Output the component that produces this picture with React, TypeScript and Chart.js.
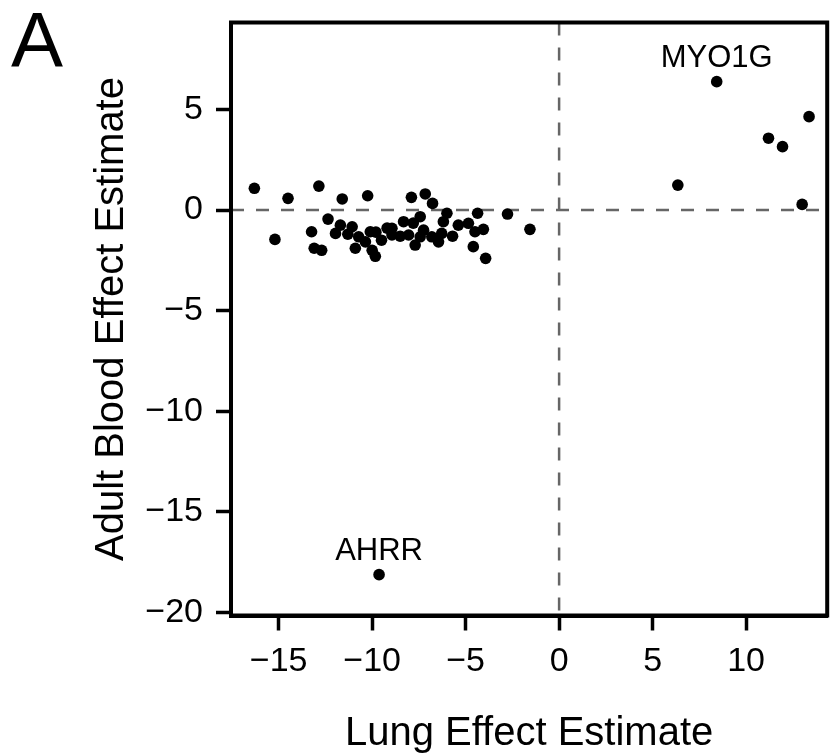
import React, { useEffect, useRef } from "react";
import { Chart, registerables } from "chart.js";

Chart.register(...registerables);

// ---- data ----
const lungEffect = [
  -16.3, -12.85, -14.5, -11.6, -10.24, -15.2, -12.36, -13.24, -13.1, -12.7,
  -11.7, -11.96, -11.07, -10.72, -10.1, -10.9, -10.0, -9.83, -9.2, -8.94,
  -10.36, -7.9, -7.16, -6.77, -7.43, -6.0, -4.36, -2.76, -1.56, -3.93,
  -4.59, -4.05, -4.5, -4.85, -5.39, -6.19, -6.28, -6.45, -6.81, -7.7,
  -7.43, -8.05, -8.32, -8.94, -7.25, -7.8, -9.5, -8.5, -5.7, -9.8, -11.3,
  6.35, 11.2, 11.95, 13.37, 13.0,
];
const bloodEffect = [
  1.08, 1.19, 0.58, 0.55, 0.71, -1.46, -0.45, -1.08, -1.9, -2.0,
  -0.75, -1.16, -0.83, -1.33, -1.08, -1.9, -2.0, -2.3, -0.9, -1.24,
  -1.58, 0.63, 0.8, 0.33, -0.33, -0.16, -0.16, -0.2, -0.96, -2.4,
  -1.82, -0.96, -1.08, -0.66, -0.75, -0.58, -1.16, -1.58, -1.33, -1.74,
  -1.33, -1.24, -0.58, -0.91, -1.0, -0.65, -1.5, -1.3, -1.3, -1.1, -1.2,
  1.24, 3.57, 3.15, 4.64, 0.28,
];
const labelledGenes = ["MYO1G", "AHRR"];
const labelledLung = [8.43, -9.63];
const labelledBlood = [6.38, -18.12];

const xTicks = [-15, -10, -5, 0, 5, 10];
const yTicks = [-20, -15, -10, -5, 0, 5];
const xRange = [-17.55, 14.34];
const yRange = [-20.15, 9.32];

const panelLabel = "A";
const xTitle = "Lung Effect Estimate";
const yTitle = "Adult Blood Effect Estimate";

const FONT = "'Liberation Sans', Arial, Helvetica, sans-serif";

const fmt = (v: number) => (v < 0 ? "\u2212" + Math.abs(v) : String(v));

const decorPlugin = {
  id: "decor",
  beforeDatasetsDraw(chart: any) {
    const { ctx, chartArea: a, scales } = chart;
    const x0 = scales.x.getPixelForValue(0);
    const y0 = scales.y.getPixelForValue(0);
    ctx.save();
    ctx.strokeStyle = "#666666";
    ctx.lineWidth = 2.5;
    ctx.setLineDash([13, 12]);
    ctx.beginPath();
    ctx.moveTo(x0, a.top);
    ctx.lineTo(x0, a.bottom);
    ctx.stroke();
    ctx.beginPath();
    ctx.moveTo(a.left, y0);
    ctx.lineTo(a.right, y0);
    ctx.stroke();
    ctx.restore();
  },
  afterDraw(chart: any) {
    const { ctx, chartArea: a, scales } = chart;
    ctx.save();
    // frame
    ctx.strokeStyle = "#000";
    ctx.lineWidth = 4;
    ctx.strokeRect(a.left, a.top, a.right - a.left, a.bottom - a.top);

    ctx.fillStyle = "#000";
    // axis titles
    ctx.font = `40px ${FONT}`;
    ctx.textAlign = "center";
    ctx.textBaseline = "alphabetic";
    ctx.fillText(xTitle, (a.left + a.right) / 2, 745);
    ctx.save();
    ctx.translate(123, (a.top + a.bottom) / 2);
    ctx.rotate(-Math.PI / 2);
    ctx.fillText(yTitle, 0, 0);
    ctx.restore();

    // point annotations
    ctx.font = `31px ${FONT}`;
    labelledGenes.forEach((g, i) => {
      const px = scales.x.getPixelForValue(labelledLung[i]);
      const py = scales.y.getPixelForValue(labelledBlood[i]);
      ctx.fillText(g, px, py - 15);
    });

    // panel label
    ctx.font = `78px ${FONT}`;
    ctx.textAlign = "left";
    ctx.fillText(panelLabel, 11, 67);
    ctx.restore();
  },
};

export default function App() {
  const ref = useRef<HTMLCanvasElement | null>(null);

  useEffect(() => {
    document.body.style.margin = "0";
    const canvas = ref.current;
    if (!canvas) return;

    const pts = lungEffect.map((x, i) => ({ x, y: bloodEffect[i] }));
    const labPts = labelledLung.map((x, i) => ({ x, y: labelledBlood[i] }));

    const tickFont = { family: FONT, size: 34 };

    const chart = new Chart(canvas, {
      type: "scatter",
      data: {
        datasets: [
          {
            data: pts,
            backgroundColor: "#000",
            borderWidth: 0,
            pointRadius: 5.8,
          },
          {
            data: labPts,
            backgroundColor: "#000",
            borderWidth: 0,
            pointRadius: 5.8,
          },
        ],
      },
      options: {
        animation: false,
        responsive: false,
        devicePixelRatio: 1,
        layout: { padding: { top: 22.5, right: 2.5, left: 0, bottom: 0 } },
        plugins: {
          legend: { display: false },
          tooltip: { enabled: false },
          title: { display: false },
        },
        scales: {
          x: {
            type: "linear",
            min: xRange[0],
            max: xRange[1],
            afterBuildTicks: (s: any) => {
              s.ticks = xTicks.map((v) => ({ value: v }));
            },
            afterFit: (s: any) => {
              s.height = 138.5;
              s.paddingLeft = 0;
              s.paddingRight = 0;
              s.paddingTop = 0;
              s.paddingBottom = 0;
            },
            grid: {
              drawOnChartArea: false,
              drawTicks: true,
              tickLength: 15,
              tickWidth: 3.5,
              tickColor: "#000",
              color: "#000",
            },
            border: { display: true, color: "#000", width: 4 },
            ticks: {
              color: "#000",
              font: tickFont,
              padding: 11,
              autoSkip: false,
              maxRotation: 0,
              callback: (v: any) => fmt(Number(v)),
            },
          },
          y: {
            type: "linear",
            min: yRange[0],
            max: yRange[1],
            afterBuildTicks: (s: any) => {
              s.ticks = yTicks.map((v) => ({ value: v }));
            },
            afterFit: (s: any) => {
              s.width = 231;
              s.paddingLeft = 0;
              s.paddingRight = 0;
              s.paddingTop = 0;
              s.paddingBottom = 0;
            },
            grid: {
              drawOnChartArea: false,
              drawTicks: true,
              tickLength: 15,
              tickWidth: 3.5,
              tickColor: "#000",
              color: "#000",
            },
            border: { display: true, color: "#000", width: 4 },
            ticks: {
              color: "#000",
              font: tickFont,
              padding: 13,
              autoSkip: false,
              callback: (v: any) => fmt(Number(v)),
            },
          },
        },
      },
      plugins: [decorPlugin],
    } as any);

    return () => chart.destroy();
  }, []);

  return (
    <div style={{ width: 833, height: 754, background: "#fff" }}>
      <canvas ref={ref} width={833} height={754} style={{ display: "block", width: 833, height: 754 }} />
    </div>
  );
}
